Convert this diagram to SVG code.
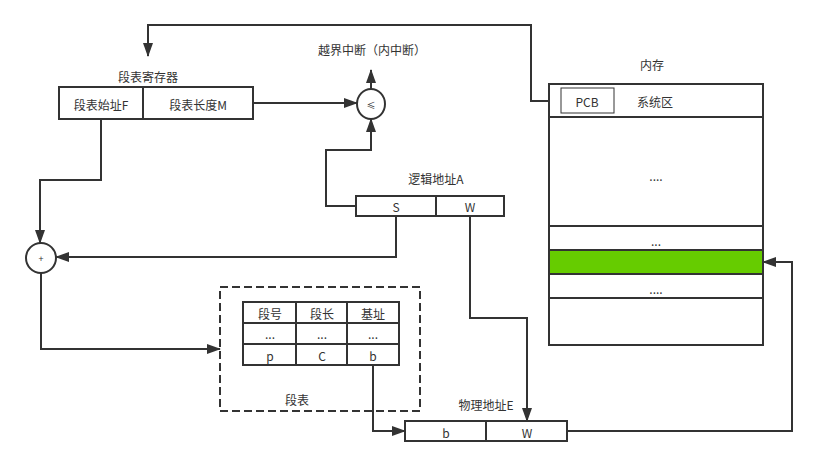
<svg xmlns="http://www.w3.org/2000/svg" width="817" height="467" viewBox="0 0 817 467">
<defs>
<style>
.b{fill:#fff;stroke:#333;stroke-width:2}
.t{font-family:"Noto Sans CJK SC","Liberation Sans",sans-serif;font-size:12px;fill:#333;text-anchor:middle;dominant-baseline:central}
.c{fill:none;stroke:#333;stroke-width:2}
</style>
<marker id="a" viewBox="0 0 14 10" refX="13" refY="5" markerWidth="7" markerHeight="5" orient="auto" markerUnits="strokeWidth"><path d="M0,0 L14,5 L0,10 Z" fill="#333"/></marker>
</defs>
<rect width="817" height="467" fill="#fff"/>
<g id="connectors">
<path class="c" d="M562,101 H531 V25 H148 V56" marker-end="url(#a)"/>
<path class="c" d="M253,103 H357" marker-end="url(#a)"/>
<path class="c" d="M371,89 V70" marker-end="url(#a)"/>
<path class="c" d="M356,206 H326 V150 H371 V119" marker-end="url(#a)"/>
<path class="c" d="M396,216 V257 H56" marker-end="url(#a)"/>
<path class="c" d="M101,119 V180 H40 V243" marker-end="url(#a)"/>
<path class="c" d="M41,273 V349 H220" marker-end="url(#a)"/>
<path class="c" d="M373,365 V431 H405" marker-end="url(#a)"/>
<path class="c" d="M470,216 V318 H527 V421" marker-end="url(#a)"/>
<path class="c" d="M567,431 H792 V262 H763" marker-end="url(#a)"/>
</g>
<g id="seg-reg">
<rect class="b" x="59" y="87" width="194" height="32"/>
<line class="c" x1="143" y1="87" x2="143" y2="119"/>
<text class="t" x="101" y="104">段表始址F</text>
<text class="t" x="198" y="104">段表长度M</text>
<text class="t" x="148" y="76">段表寄存器</text>
</g>
<g id="compare">
<ellipse class="b" cx="371" cy="104" rx="14" ry="15"/>
<text class="t" x="371" y="105" style="font-size:9px">≤</text>
<text class="t" x="372" y="49">越界中断（内中断）</text>
</g>
<g id="logical">
<rect class="b" x="356" y="196" width="148" height="20"/>
<line class="c" x1="436" y1="196" x2="436" y2="216"/>
<text class="t" x="396" y="206">S</text>
<text class="t" x="470" y="206">W</text>
<text class="t" x="436" y="178">逻辑地址A</text>
</g>
<g id="adder">
<circle class="b" cx="41" cy="258" r="15"/>
<text class="t" x="41" y="258" style="font-size:9px">+</text>
</g>
<g id="seg-table">
<rect x="220" y="287" width="200" height="124" fill="none" stroke="#333" stroke-width="2" stroke-dasharray="8,4"/>
<rect class="b" x="243" y="302" width="156" height="63"/>
<line class="c" x1="296" y1="302" x2="296" y2="365"/>
<line class="c" x1="347" y1="302" x2="347" y2="365"/>
<line class="c" x1="243" y1="323" x2="399" y2="323"/>
<line class="c" x1="243" y1="344" x2="399" y2="344"/>
<text class="t" x="270" y="313">段号</text>
<text class="t" x="322" y="313">段长</text>
<text class="t" x="373" y="313">基址</text>
<text class="t" x="270" y="333">...</text>
<text class="t" x="322" y="333">...</text>
<text class="t" x="373" y="333">...</text>
<text class="t" x="270" y="355">p</text>
<text class="t" x="322" y="355">C</text>
<text class="t" x="373" y="355">b</text>
<text class="t" x="297" y="399">段表</text>
</g>
<g id="physical">
<rect class="b" x="405" y="421" width="162" height="20"/>
<line class="c" x1="486" y1="421" x2="486" y2="441"/>
<text class="t" x="446" y="432">b</text>
<text class="t" x="527" y="432">W</text>
<text class="t" x="486" y="404">物理地址E</text>
</g>
<g id="memory">
<rect class="b" x="549" y="84" width="214" height="261"/>
<line class="c" x1="549" y1="117" x2="763" y2="117"/>
<line class="c" x1="549" y1="226" x2="763" y2="226"/>
<rect x="549" y="250" width="214" height="24" fill="#66cc00" stroke="#333" stroke-width="2"/>
<line class="c" x1="549" y1="298" x2="763" y2="298"/>
<rect x="561" y="88" width="53" height="25" fill="#fff" stroke="#333" stroke-width="1"/>
<text class="t" x="587" y="101">PCB</text>
<text class="t" x="655" y="101">系统区</text>
<text class="t" x="656" y="175">....</text>
<text class="t" x="656" y="240">...</text>
<text class="t" x="656" y="288">....</text>
<text class="t" x="652" y="64">内存</text>
</g>
</svg>
